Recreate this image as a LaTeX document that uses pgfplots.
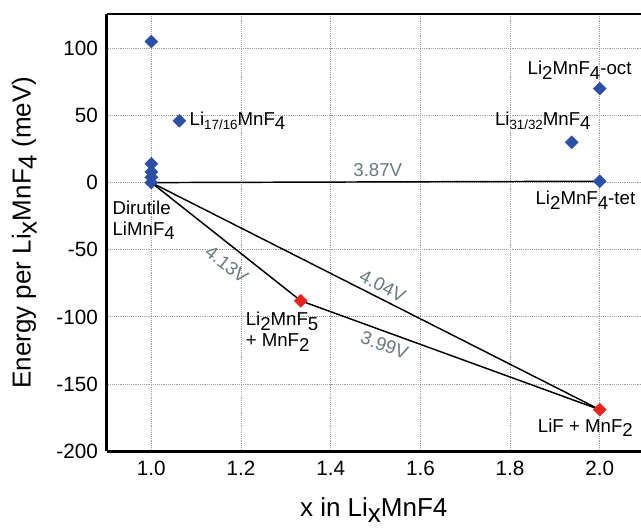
\documentclass[border=0pt]{standalone}
\usepackage{fontspec}
\setmainfont{Liberation Sans}
\usepackage{pgfplots}
\pgfplotsset{compat=1.18}
\usetikzlibrary{calc}
\definecolor{dblue}{HTML}{2B4EA6}
\definecolor{dred}{HTML}{E8221C}
\definecolor{vgray}{HTML}{6A7A80}
\newcommand{\dn}[1]{\raisebox{-0.45ex}{#1}}
\newcommand{\dns}[1]{\raisebox{-0.4ex}{\fontsize{10}{11}\selectfont #1}}
\begin{document}
\begin{tikzpicture}
\begin{axis}[
  scale only axis, width=400.9pt, height=328pt,
  xmin=0.9, xmax=2.092, ymin=-200, ymax=125.5,
  axis x line*=box, axis y line*=left,
  axis line style={line width=2.2pt},
  xtick={1,1.2,1.4,1.6,1.8,2},
  ytick={-200,-150,-100,-50,0,50,100},
  grid=major,
  major grid style={densely dotted, gray!75, line width=0.7pt},
  major tick length=0pt,
  /pgf/number format/assume math mode=true,
  tick label style={font=\fontsize{15.5}{18}\selectfont},
  xticklabel style={/pgf/number format/.cd, fixed, fixed zerofill, precision=1, /tikz/.cd, yshift=-4pt},
  yticklabel style={xshift=-3pt},
  xlabel={x in Li\dn{x}MnF4},
  ylabel={Energy per Li\dn{x}MnF\dn{4} (meV)},
  label style={font=\fontsize{19.5}{22}\selectfont},
  xlabel style={at={(axis description cs:0.5,-0.135)}, anchor=center},
  ylabel style={at={(axis description cs:-0.154,0.5)}, anchor=center},
  clip=false,
]
% hull lines
\addplot[black, line width=1.1pt] coordinates {(1.0,0) (2.0,1)};
\addplot[black, line width=1.1pt] coordinates {(1.0,0) (1.3333,-88) (2.0,-169)};
\addplot[black, line width=1.1pt] coordinates {(1.0,0) (2.0,-169)};
% blue structures
\addplot[only marks, mark=square*, mark size=3.4pt, mark options={rotate=45, fill=dblue, draw=dblue}]
  coordinates {(1.0,105) (1.0,14) (1.0,8) (1.0,4) (1.0,0) (1.0625,46) (1.9375,30) (2.0,70) (2.0,1)};
% red hull points
\addplot[only marks, mark=square*, mark size=3.4pt, mark options={rotate=45, fill=dred, draw=dred}]
  coordinates {(1.3333,-88) (2.0,-169)};
% labels
\begin{scope}[font=\fontsize{14}{16.5}\selectfont]
\node[anchor=west] at (axis cs:1.075,46) {Li\dns{17/16}MnF\dn{4}};
\node at (axis cs:1.955,83.5) {Li\dn{2}MnF\dn{4}-oct};
\node at (axis cs:1.873,46) {Li\dns{31/32}MnF\dn{4}};
\node at (axis cs:1.968,-13) {Li\dn{2}MnF\dn{4}-tet};
\node[anchor=west, align=left] at (axis cs:0.903,-28) {Dirutile\\[-1pt]LiMnF\dn{4}};
\node[anchor=west, align=left] at (axis cs:1.2,-111) {Li\dn{2}MnF\dn{5}\\[-1pt]+ MnF\dn{2}};
\node at (axis cs:1.968,-182.5) {LiF + MnF\dn{2}};
\end{scope}
\begin{scope}[font=\fontsize{14}{16.5}\selectfont, text=vgray]
\node at (axis cs:1.505,9) {3.87V};
\node[rotate=-38.4] at (axis cs:1.168,-61) {4.13V};
\node[rotate=-26.8] at (axis cs:1.516,-77) {4.04V};
\node[rotate=-19.8] at (axis cs:1.52,-121) {3.99V};
\end{scope}
\end{axis}
\pgfresetboundingbox
\path[use as bounding box] ($(current axis.south west)+(-79.9pt,-58.5pt)$) rectangle ($(current axis.north east)+(0pt,10.5pt)$);
\end{tikzpicture}
\end{document}
